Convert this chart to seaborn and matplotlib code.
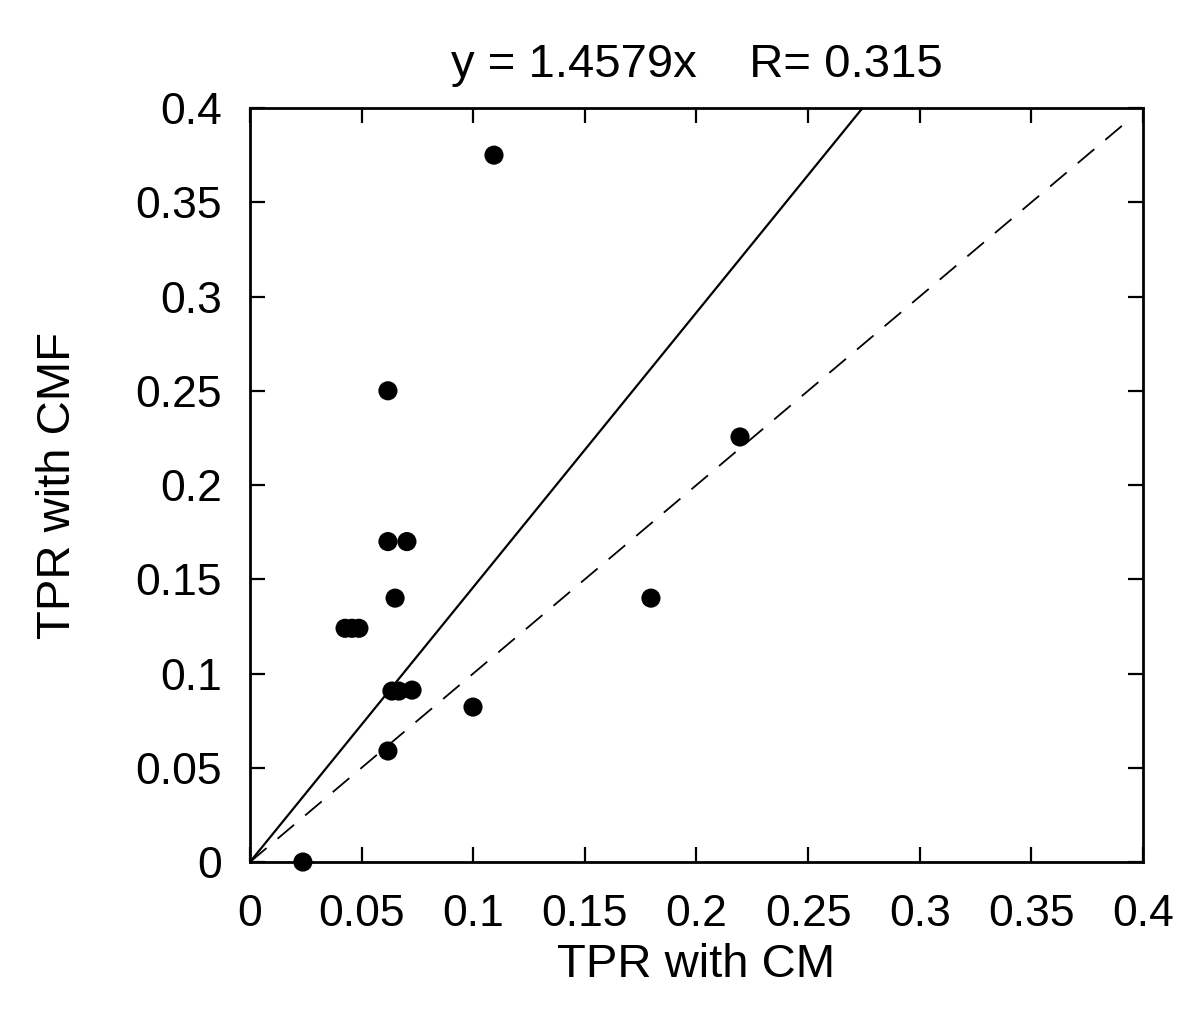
"""
TPR with CM vs TPR with CMF scatter, with fitted line and y = x reference
"""

import numpy as np
import pandas as pd
import matplotlib
matplotlib.use("Agg")
import matplotlib.pyplot as plt
import seaborn as sns

# Data
tpr_cm = [0.0237, 0.1093, 0.0618, 0.2195, 0.0618, 0.0703, 0.0650, 0.1796,
          0.0426, 0.0457, 0.0488, 0.0636, 0.0667, 0.0726, 0.0999, 0.0618]
tpr_cmf = [0.0, 0.375, 0.250, 0.2255, 0.170, 0.170, 0.140, 0.140,
           0.124, 0.124, 0.124, 0.0907, 0.0907, 0.0912, 0.0822, 0.0589]

slope = 1.4579
r_value = 0.315
fit_x = [0.0, 0.4 / slope]
diag_x = [0.0, 0.393]

axis_ticks = [0, 0.05, 0.1, 0.15, 0.2, 0.25, 0.3, 0.35, 0.4]
tick_labels = ["0", "0.05", "0.1", "0.15", "0.2", "0.25", "0.3", "0.35", "0.4"]

sns.set_style("white")
plt.rcParams['font.family'] = ['Liberation Sans', 'DejaVu Sans']
plt.rcParams['text.color'] = 'black'
plt.rcParams['axes.labelcolor'] = 'black'
plt.rcParams['xtick.color'] = 'black'
plt.rcParams['ytick.color'] = 'black'

df = pd.DataFrame({'cm': tpr_cm, 'cmf': tpr_cmf})
fit_df = pd.DataFrame({'x': fit_x, 'y': [slope * v for v in fit_x]})
diag_df = pd.DataFrame({'x': diag_x, 'y': diag_x})

fig = plt.figure(figsize=(12, 10.25), dpi=100)
ax = fig.add_axes([0.2083, 0.159, 0.7442, 0.7356])

# fitted line and y = x
sns.lineplot(data=fit_df, x='x', y='y', ax=ax, color='black', linewidth=1.6)
sns.lineplot(data=diag_df, x='x', y='y', ax=ax, color='black', linewidth=1.3,
             linestyle=(0, (12, 8)))

sns.scatterplot(data=df, x='cm', y='cmf', ax=ax, color='black', s=190,
                edgecolor='none', zorder=3, clip_on=False)

ax.set_xlim(0, 0.4)
ax.set_ylim(0, 0.4)
ax.set_xticks(axis_ticks)
ax.set_xticklabels(tick_labels)
ax.set_yticks(axis_ticks)
ax.set_yticklabels(tick_labels)

ax.tick_params(direction='in', length=11, width=1.6, labelsize=32,
               bottom=True, left=True, top=True, right=True, pad=20)
ax.tick_params(axis='x', pad=23)
for spine in ax.spines.values():
    spine.set_linewidth(2)
    spine.set_color('black')

ax.set_xlabel('TPR with CM', fontsize=34, labelpad=6)
ax.set_ylabel('TPR with CMF', fontsize=34, labelpad=40)
ax.set_title(f'y = {slope}x    R= {r_value}', fontsize=34, pad=22)

plt.savefig('out.png', dpi=100)
plt.close()
